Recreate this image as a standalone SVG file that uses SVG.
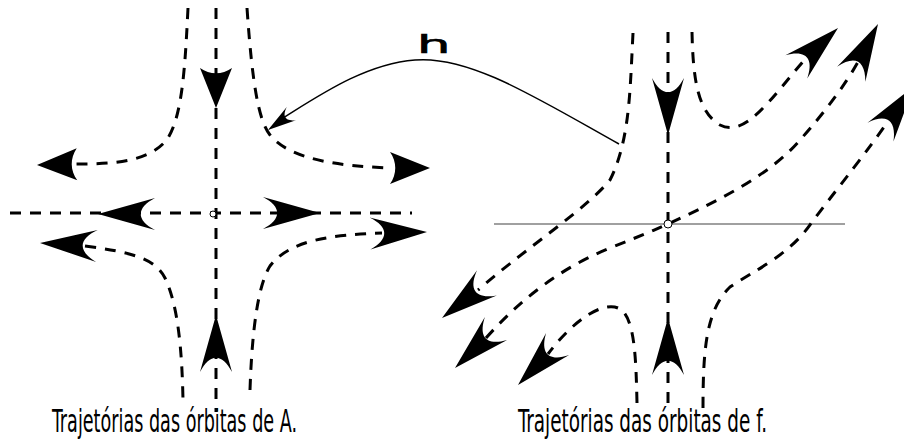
<svg xmlns="http://www.w3.org/2000/svg" xmlns:xlink="http://www.w3.org/1999/xlink" width="904" height="439" viewBox="0 0 904 439">
<style>
.d{fill:none;stroke:#000;stroke-width:3;stroke-dasharray:11,9}
.s{fill:none;stroke:#000;stroke-width:1.5}
.ax{fill:none;stroke:#808080;stroke-width:1.5}
.o{fill:#fff;stroke:#000;stroke-width:1}
.lbl{font-family:"DejaVu Sans Condensed","DejaVu Sans","Noto Sans",sans-serif;font-size:16px;fill:#000}
.h{font-family:"DejaVu Sans","Noto Sans",sans-serif;font-size:24px;fill:#000;stroke:#000;stroke-width:0.6}
</style>
<defs>
<path id="al" d="M0,0 L-57,-16 C-38,-6 -38,6 -57,16 Z" fill="#000"/>
<path id="as" d="M0,0 L-40,-16 C-33,-6 -33,6 -40,16 Z" fill="#000"/>
</defs>
<rect width="904" height="439" fill="#fff"/>
<g id="connectors">
<g id="left-orbits">
<path class="d" d="M216,8 V412"/>
<path class="d" d="M10,213 H412"/>
<path class="d" d="M188,8 C185,70 182,115 168,138 C150,163 110,164 75,164"/>
<path class="d" d="M247,8 C252,80 258,120 270,135 C290,160 340,166 390,168"/>
<path class="d" d="M85,246 C130,252 155,258 165,278 C178,305 182,350 183,400"/>
<path class="d" d="M250,390 C252,330 258,285 270,266 C290,240 330,235 382,233"/>
</g>
<g id="right-orbits">
<path class="ax" d="M494,224 H845"/>
<path class="d" d="M668,32 V410"/>
<path class="d" d="M633,33 C630,90 630,140 610,180 C585,210 530,245 478,290"/>
<path class="d" d="M486,338 C520,300 560,268 610,248 C640,236 650,232 668,224 C720,200 770,175 800,140 C825,112 845,85 858,62"/>
<path class="d" d="M692,32 C693,80 698,112 720,125 C745,138 770,100 806,58"/>
<path class="d" d="M703,408 C703,350 706,310 730,287 C755,270 790,255 812,222 C840,185 870,148 888,121"/>
<path class="d" d="M637,403 C636,360 635,318 620,309 C605,300 575,318 548,354"/>
</g>
<g id="map-h">
<path class="s" d="M619,144 C540,100 470,55 415,60 C365,64 320,95 283,118"/>
<use xlink:href="#al" transform="translate(268,130) rotate(145) scale(0.5)"/>
</g>
<g id="arrowheads">
<use xlink:href="#as" transform="translate(216,108) rotate(90)"/>
<use xlink:href="#al" transform="translate(216,315) rotate(-90)"/>
<use xlink:href="#al" transform="translate(98,214) rotate(180)"/>
<use xlink:href="#al" transform="translate(320,213)"/>
<use xlink:href="#as" transform="translate(37,165) rotate(179)"/>
<use xlink:href="#as" transform="translate(430,168)"/>
<use xlink:href="#al" transform="translate(40,243) rotate(183)"/>
<use xlink:href="#al" transform="translate(427,232) rotate(-1.5)"/>
<use xlink:href="#al" transform="translate(668,135) rotate(90)"/>
<use xlink:href="#al" transform="translate(668,318) rotate(-90)"/>
<use xlink:href="#al" transform="translate(838,28) rotate(-43)"/>
<use xlink:href="#al" transform="translate(878,24) rotate(-62)"/>
<use xlink:href="#al" transform="translate(914,86) rotate(-54)"/>
<use xlink:href="#al" transform="translate(442,318) rotate(142)"/>
<use xlink:href="#al" transform="translate(455,368) rotate(136)"/>
<use xlink:href="#al" transform="translate(518,385) rotate(134)"/>
</g>
</g>
<g id="origin-A"><circle class="o" cx="213" cy="214" r="3"/></g>
<g id="origin-f"><circle class="o" cx="668" cy="224" r="4"/></g>
<g id="label-h"><text class="h" transform="translate(417,53) scale(2.2,1)" x="0" y="0">h</text></g>
<g id="caption-A"><text class="lbl" transform="translate(52,432) scale(1,2)" x="0" y="0" textLength="245" lengthAdjust="spacingAndGlyphs">Trajetórias das órbitas de A.</text></g>
<g id="caption-f"><text class="lbl" transform="translate(518,432) scale(1,2)" x="0" y="0" textLength="249" lengthAdjust="spacingAndGlyphs">Trajetórias das órbitas de f.</text></g>
</svg>
